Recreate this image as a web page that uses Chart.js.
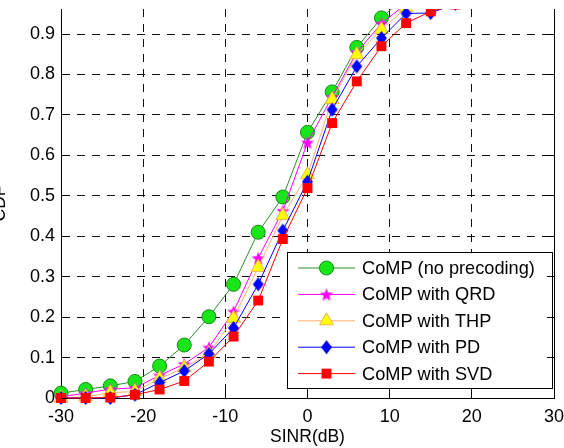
<!DOCTYPE html>
<html>
<head>
<meta charset="utf-8">
<script src="https://cdn.jsdelivr.net/npm/chart.js@4/dist/chart.umd.min.js"></script>
<style>
  body { margin: 0; background: #fff; }
  canvas { display: block; }
</style>
</head>
<body>
<canvas id="cdfChart" width="564" height="448"></canvas>
<script>
// SINR sample points (dB)
const sinr = [-30, -27, -24, -21, -18, -15, -12, -9, -6, -3, 0, 3, 6, 9, 12, 15, 18];

// CDF values
const noPrecoding = [0.012, 0.021, 0.030, 0.041, 0.079, 0.131, 0.201, 0.281, 0.410, 0.497, 0.657, 0.757, 0.867, 0.940, 0.995, 1.0, 1.0];
const withQRD     = [0.003, 0.012, 0.022, 0.025, 0.056, 0.084, 0.125, 0.214, 0.346, 0.463, 0.632, 0.745, 0.855, 0.926, 0.975, 0.99, 1.0];
const withTHP     = [0.000, 0.003, 0.013, 0.016, 0.048, 0.075, 0.110, 0.197, 0.323, 0.451, 0.552, 0.738, 0.849, 0.911, 0.965, 0.985, 1.0];
const withPD      = [0.000, 0.000, 0.000, 0.008, 0.038, 0.067, 0.109, 0.173, 0.281, 0.414, 0.535, 0.713, 0.820, 0.890, 0.951, 0.952, 0.975];
const withSVD     = [0.000, 0.000, 0.001, 0.008, 0.021, 0.042, 0.090, 0.152, 0.241, 0.393, 0.519, 0.680, 0.783, 0.870, 0.927, 0.956, 0.973];

const seriesNames = ['CoMP (no precoding)', 'CoMP with QRD', 'CoMP with THP', 'CoMP with PD', 'CoMP with SVD'];
const xTicks = [-30, -20, -10, 0, 10, 20, 30];
const yTicks = [0, 0.1, 0.2, 0.3, 0.4, 0.5, 0.6, 0.7, 0.8, 0.9];

const FONT = '"Liberation Sans", Arial, Helvetica, sans-serif';
const TICK_SIZE = 18;
const LEGEND_SIZE = 18.2;
const TITLE_SIZE = 17.5;

// filled five-point star like matlab's pentagram
function starMarker(r, color) {
    const s = Math.ceil(r * 2 + 2);
    const c = document.createElement('canvas');
    c.width = c.height = s;
    const g = c.getContext('2d');
    g.translate(s / 2, s / 2 + r * 0.1);
    g.beginPath();
    for (let i = 0; i < 10; i++) {
        const rr = i % 2 === 0 ? r : r * 0.42;
        const a = -Math.PI / 2 + i * Math.PI / 5;
        g.lineTo(rr * Math.cos(a), rr * Math.sin(a));
    }
    g.closePath();
    g.fillStyle = color;
    g.fill();
    return c;
}

// diamond a bit taller than wide
function diamondMarker(w, h, color) {
    const c = document.createElement('canvas');
    c.width = w + 2;
    c.height = h + 2;
    const g = c.getContext('2d');
    const cx = c.width / 2, cy = c.height / 2;
    g.beginPath();
    g.moveTo(cx, cy - h / 2);
    g.lineTo(cx + w / 2, cy);
    g.lineTo(cx, cy + h / 2);
    g.lineTo(cx - w / 2, cy);
    g.closePath();
    g.fillStyle = color;
    g.fill();
    return c;
}

function toPoints(ys) {
    return sinr.map((x, i) => ({x: x, y: ys[i]}));
}

const datasets = [
    {
        label: seriesNames[0], data: toPoints(noPrecoding), order: 5,
        borderColor: '#2a8f2a', borderWidth: 1,
        pointStyle: 'circle', pointRadius: 7, pointBackgroundColor: '#19e619',
        pointBorderColor: '#118a11', pointBorderWidth: 1
    },
    {
        label: seriesNames[1], data: toPoints(withQRD), order: 4,
        borderColor: '#ff00ff', borderWidth: 1,
        pointStyle: starMarker(7, '#ff00ff'), pointRadius: 7, pointBackgroundColor: '#ff00ff',
        pointBorderColor: '#ff00ff', pointBorderWidth: 0
    },
    {
        label: seriesNames[2], data: toPoints(withTHP), order: 3,
        borderColor: '#ffb070', borderWidth: 1,
        pointStyle: 'triangle', pointRadius: 8, pointBackgroundColor: '#ffff00',
        pointBorderColor: '#f7b34a', pointBorderWidth: 1
    },
    {
        label: seriesNames[3], data: toPoints(withPD), order: 2,
        borderColor: '#0000ff', borderWidth: 1,
        pointStyle: diamondMarker(11, 14, '#0000ff'), pointRadius: 7, pointBackgroundColor: '#0000ff',
        pointBorderColor: '#0000ff', pointBorderWidth: 0
    },
    {
        label: seriesNames[4], data: toPoints(withSVD), order: 1,
        borderColor: '#ff0000', borderWidth: 1,
        pointStyle: 'rect', pointRadius: 7, pointBackgroundColor: '#ff0000',
        pointBorderColor: '#ff0000', pointBorderWidth: 0
    }
];
// clipped at the top of the axes, markers may spill past the other sides
datasets.forEach(d => { d.clip = {left: 12, right: 12, top: 0, bottom: 12}; d.tension = 0; d.fill = false; });

// legend box sitting inside the plot, plus the matlab style axis decorations
const decorPlugin = {
    id: 'decor',
    afterDraw(chart) {
        const ctx = chart.ctx;
        const area = chart.chartArea;
        const xs = chart.scales.x, ys = chart.scales.y;
        const align = p => Math.round(p - 0.5) + 0.5;

        ctx.save();
        // legend
        const box = {left: 287, top: 252, right: 553, bottom: 389};
        ctx.fillStyle = '#fff';
        ctx.fillRect(box.left, box.top, box.right - box.left, box.bottom - box.top);
        ctx.strokeStyle = '#000';
        ctx.lineWidth = 1;
        ctx.strokeRect(box.left + 0.5, box.top + 0.5, box.right - box.left - 1, box.bottom - box.top - 1);
        ctx.font = LEGEND_SIZE + 'px ' + FONT;
        ctx.textBaseline = 'middle';
        ctx.textAlign = 'left';
        seriesNames.forEach((name, i) => {
            const ds = chart.data.datasets[i];
            const y = box.top + 16 + i * 26.4;
            ctx.strokeStyle = ds.borderColor;
            ctx.lineWidth = 1;
            ctx.beginPath();
            ctx.moveTo(298, y);
            ctx.lineTo(355, y);
            ctx.stroke();
            ctx.fillStyle = ds.pointBackgroundColor;
            ctx.strokeStyle = ds.pointBorderColor;
            Chart.helpers.drawPoint(ctx, {
                pointStyle: ds.pointStyle, radius: ds.pointRadius,
                borderWidth: ds.pointBorderWidth, rotation: 0
            }, 326.5, y);
            ctx.fillStyle = '#000';
            ctx.fillText(name, 362, y + 1);
        });

        // inward tick marks and right frame line
        ctx.strokeStyle = '#000';
        ctx.lineWidth = 1;
        ctx.setLineDash([]);
        ctx.beginPath();
        xTicks.forEach(v => {
            const px = align(xs.getPixelForValue(v));
            ctx.moveTo(px, area.bottom);
            ctx.lineTo(px, area.bottom - 6);
        });
        yTicks.forEach(v => {
            const py = align(ys.getPixelForValue(v));
            ctx.moveTo(area.right, py);
            ctx.lineTo(area.right - 7, py);
            ctx.moveTo(area.left, py);
            ctx.lineTo(area.left + 7, py);
        });
        const rx = align(area.right);
        ctx.moveTo(rx, area.top);
        ctx.lineTo(rx, area.bottom);
        ctx.stroke();

        // y title, mostly cut off by the left edge
        ctx.translate(5, (area.top + area.bottom) / 2);
        ctx.rotate(-Math.PI / 2);
        ctx.font = TITLE_SIZE + 'px ' + FONT;
        ctx.textAlign = 'center';
        ctx.textBaseline = 'alphabetic';
        ctx.fillStyle = '#000';
        ctx.fillText('CDF', 0, 0);
        ctx.restore();
    }
};

const gridDash = [8, 7];

new Chart(document.getElementById('cdfChart'), {
    type: 'line',
    data: {datasets: datasets},
    options: {
        responsive: false,
        animation: false,
        events: [],
        layout: {padding: {left: 0, right: 10, top: 9, bottom: 0}},
        plugins: {legend: {display: false}, tooltip: {enabled: false}},
        scales: {
            x: {
                type: 'linear', min: -30, max: 30,
                afterBuildTicks: s => { s.ticks = xTicks.map(v => ({value: v})); },
                afterFit: s => { s.height = 50; s.paddingLeft = 0; s.paddingRight = 0; },
                ticks: {
                    color: '#000', padding: 8, maxRotation: 0, autoSkip: false,
                    font: {family: FONT, size: TICK_SIZE}
                },
                grid: {
                    drawTicks: false, lineWidth: 1,
                    color: c => (c.tick && (c.tick.value === -30 || c.tick.value === 30)) ? 'rgba(0,0,0,0)' : '#111'
                },
                border: {display: true, color: '#000', width: 1, dash: gridDash},
                title: {
                    display: true, text: 'SINR(dB)', color: '#000',
                    font: {family: FONT, size: TITLE_SIZE}, padding: {top: 0, bottom: 0}
                }
            },
            y: {
                type: 'linear', min: 0, max: 0.962,
                afterBuildTicks: s => { s.ticks = yTicks.map(v => ({value: v})); },
                afterFit: s => { s.width = 61; s.paddingTop = 0; s.paddingBottom = 0; },
                ticks: {
                    color: '#000', padding: 6, autoSkip: false,
                    font: {family: FONT, size: TICK_SIZE},
                    callback: v => String(+v.toFixed(1))
                },
                grid: {
                    drawTicks: false, lineWidth: 1,
                    color: c => (c.tick && c.tick.value === 0) ? 'rgba(0,0,0,0)' : '#111'
                },
                border: {display: true, color: '#000', width: 1, dash: gridDash}
            }
        }
    },
    plugins: [decorPlugin]
});
</script>
</body>
</html>
